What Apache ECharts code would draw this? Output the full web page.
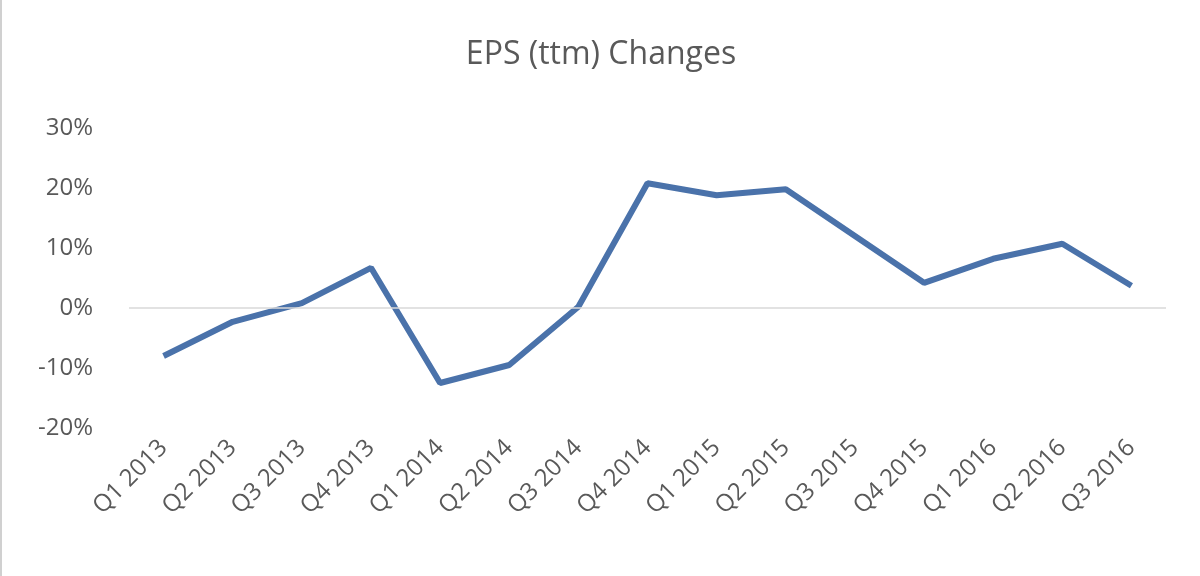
<!DOCTYPE html>
<html>
<head>
<meta charset="utf-8">
<script src="https://cdn.jsdelivr.net/npm/echarts@6/dist/echarts.min.js"></script>
<style>
  html, body { margin: 0; padding: 0; background: #fff; }
  #main { width: 1200px; height: 576px; border-left: 2px solid #d0d0d0; box-sizing: border-box; }
</style>
</head>
<body>
<div id="main"></div>
<script>
var quarters = ['Q1 2013', 'Q2 2013', 'Q3 2013', 'Q4 2013', 'Q1 2014', 'Q2 2014', 'Q3 2014', 'Q4 2014',
    'Q1 2015', 'Q2 2015', 'Q3 2015', 'Q4 2015', 'Q1 2016', 'Q2 2016', 'Q3 2016'];
var epsChange = [-8, -2.3, 0.8, 6.7, -12.5, -9.5, 0.2, 20.8, 18.8, 19.8, 12, 4.2, 8.2, 10.7, 3.7];

var myChart = echarts.init(document.getElementById('main'));
myChart.setOption({
    title: {
        text: 'EPS (ttm) Changes',
        left: 'center',
        top: 34,
        textStyle: { fontFamily: 'Open Sans', fontSize: 32, fontWeight: 'normal', color: '#595959' }
    },
    grid: { left: 127, right: 34, top: 128, height: 300 },
    xAxis: {
        type: 'category',
        data: quarters,
        axisLine: { show: false },
        axisTick: { show: false },
        axisLabel: { rotate: 45, fontFamily: 'Open Sans', fontSize: 24, color: '#595959', margin: 16 }
    },
    yAxis: {
        type: 'value',
        min: -20,
        max: 30,
        interval: 10,
        splitLine: { show: false },
        axisLabel: { formatter: '{value}%', fontFamily: 'Open Sans', fontSize: 24, color: '#595959', margin: 36 }
    },
    series: [{
        type: 'line',
        data: epsChange,
        symbol: 'none',
        lineStyle: { color: '#4a72aa', width: 6 },
        markLine: {
            silent: true,
            symbol: 'none',
            label: { show: false },
            lineStyle: { color: '#d9d9d9', type: 'solid', width: 1.5 },
            data: [{ yAxis: 0 }]
        }
    }]
});
</script>
</body>
</html>
